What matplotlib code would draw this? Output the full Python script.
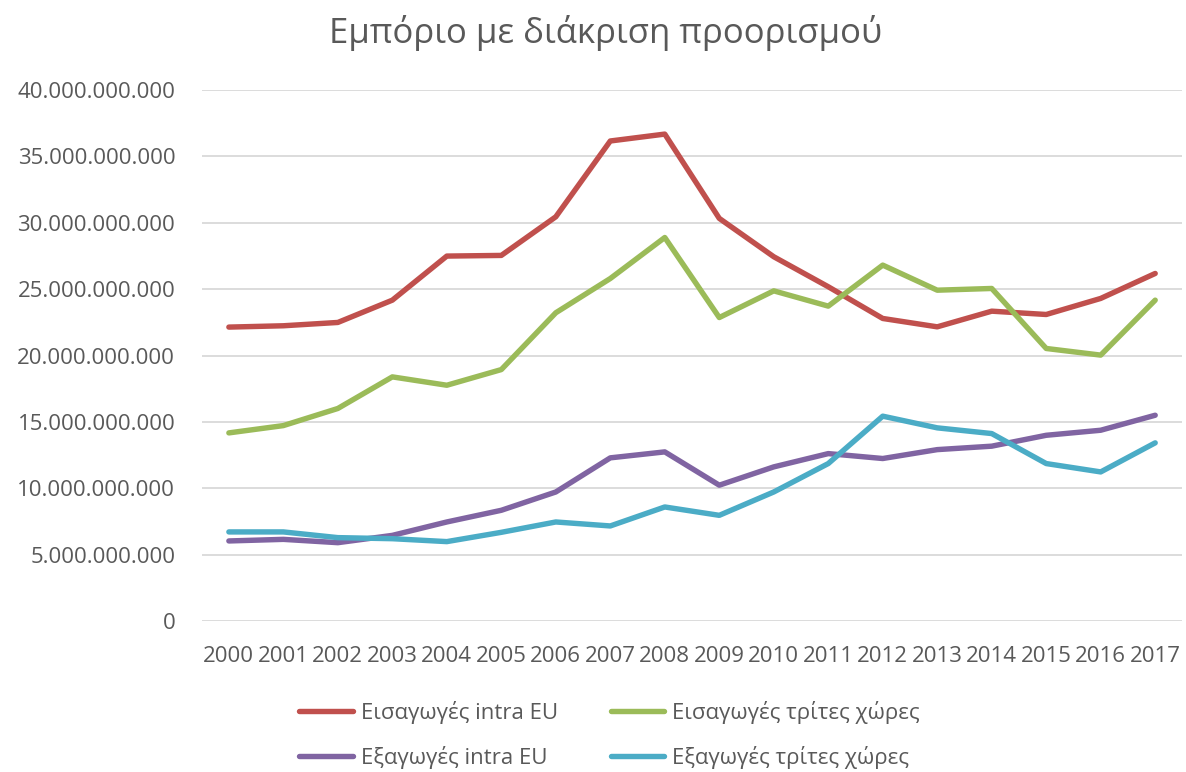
import numpy as np
import matplotlib
matplotlib.use("Agg")
import matplotlib.pyplot as plt
from matplotlib.ticker import FuncFormatter, MultipleLocator

plt.rcParams["font.family"] = ["Open Sans", "DejaVu Sans"]

# data (values in billions of euros)
years = [str(y) for y in range(2000, 2018)]
imports_intra_eu = [22.14, 22.24, 22.49, 24.17, 27.49, 27.54, 30.45, 36.16, 36.68,
                    30.33, 27.44, 25.18, 22.79, 22.16, 23.34, 23.09, 24.30, 26.18]
imports_third = [14.17, 14.72, 16.01, 18.39, 17.76, 18.94, 23.22, 25.80, 28.89,
                 22.86, 24.87, 23.72, 26.81, 24.92, 25.05, 20.53, 20.03, 24.17]
exports_intra_eu = [6.03, 6.15, 5.90, 6.45, 7.46, 8.34, 9.72, 12.29, 12.74,
                    10.23, 11.61, 12.61, 12.24, 12.91, 13.17, 13.99, 14.37, 15.50]
exports_third = [6.71, 6.71, 6.28, 6.20, 5.98, 6.68, 7.46, 7.16, 8.59,
                 7.96, 9.72, 11.86, 15.43, 14.55, 14.12, 11.86, 11.23, 13.42]

series_labels = ["Εισαγωγές intra EU", "Εισαγωγές τρίτες χώρες",
                 "Εξαγωγές intra EU", "Εξαγωγές τρίτες χώρες"]
colors = ["#C0504D", "#9BBB59", "#8064A2", "#4BACC6"]
title = "Εμπόριο με διάκριση προορισμού"

text_color = "#595959"

fig = plt.figure(figsize=(11.86, 7.72), dpi=100)
ax = fig.add_axes([0.170, 0.1956, 0.827, 0.6878])

x = np.arange(len(years))
all_series = [imports_intra_eu, imports_third, exports_intra_eu, exports_third]
lines = []
for vals, col, lab in zip(all_series, colors, series_labels):
    ln, = ax.plot(x, np.array(vals) * 1e9, color=col, lw=3.9, label=lab,
                  solid_capstyle="round", solid_joinstyle="round")
    lines.append(ln)

ax.set_xlim(-0.5, len(years) - 0.5)
ax.set_ylim(0, 40e9)
ax.yaxis.set_major_locator(MultipleLocator(5e9))
ax.yaxis.set_major_formatter(FuncFormatter(lambda v, p: f"{int(round(v)):,}".replace(",", ".")))
ax.set_xticks(x)
ax.set_xticklabels(years)

ax.grid(axis="y", color="#D9D9D9", lw=1.3)
ax.set_axisbelow(True)
for s in ax.spines.values():
    s.set_visible(False)
ax.tick_params(axis="both", length=0, labelsize=16, colors=text_color)
ax.tick_params(axis="y", pad=19)
ax.tick_params(axis="x", pad=18)

fig.text(0.511, 0.957, title, ha="center", va="center", fontsize=25, color=text_color)

# legend is filled column by column, so reorder to get rows: imports, exports
order = [0, 2, 1, 3]
leg = fig.legend([lines[i] for i in order], [series_labels[i] for i in order],
                 loc="center", bbox_to_anchor=(0.514, 0.048), ncol=2, frameon=False,
                 fontsize=16, handlelength=2.4, handletextpad=0.35,
                 columnspacing=2.4, labelspacing=1.0)
for t in leg.get_texts():
    t.set_color(text_color)

fig.savefig("out.png", dpi=100)
